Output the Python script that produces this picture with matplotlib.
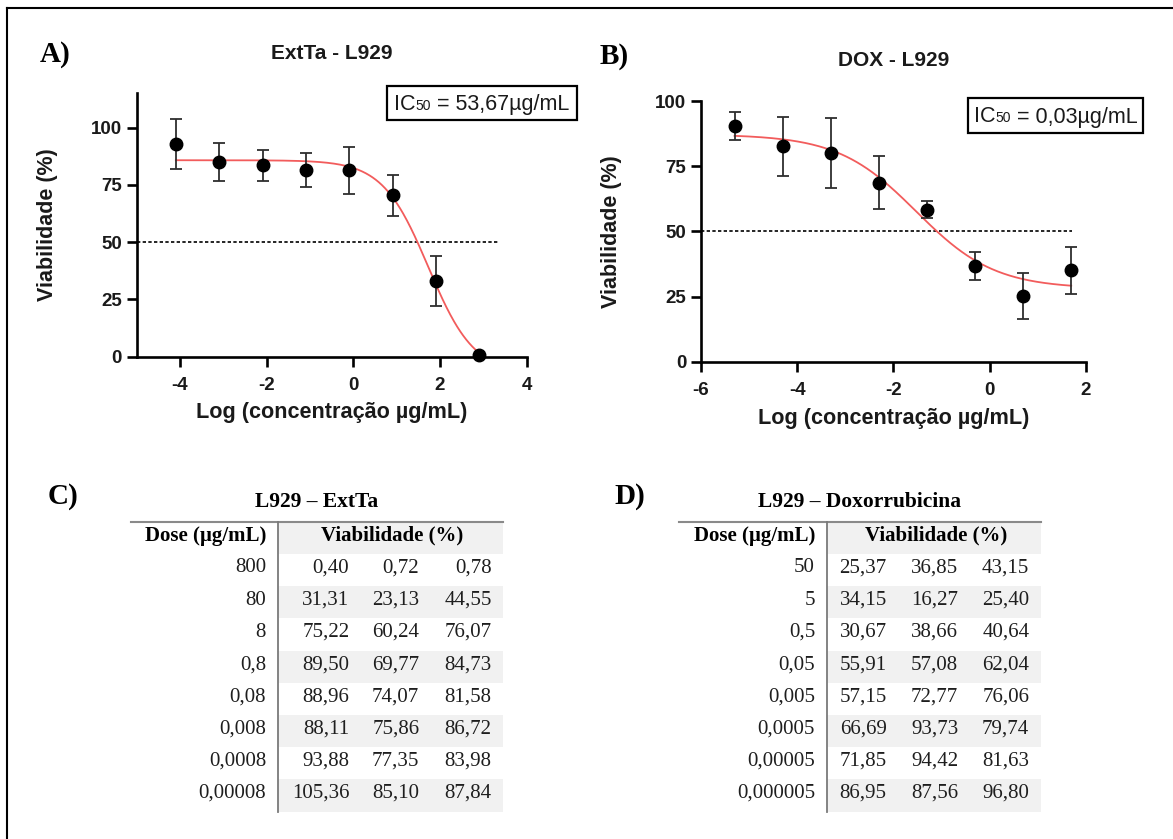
import numpy as np
import matplotlib
matplotlib.use("Agg")
import matplotlib.pyplot as plt
from matplotlib.patches import Rectangle
from matplotlib.lines import Line2D

# ---------------------------------------------------------------------------
# Data: viability (%) of L929 cells, three replicates per dose
# ---------------------------------------------------------------------------
ext_doses = ["800", "80", "8", "0,8", "0,08", "0,008", "0,0008", "0,00008"]
ext_viab = [
    [0.40, 0.72, 0.78],
    [31.31, 23.13, 44.55],
    [75.22, 60.24, 76.07],
    [89.50, 69.77, 84.73],
    [88.96, 74.07, 81.58],
    [88.11, 75.86, 86.72],
    [93.88, 77.35, 83.98],
    [105.36, 85.10, 87.84],
]
ext_ic50 = 53.67

dox_doses = ["50", "5", "0,5", "0,05", "0,005", "0,0005", "0,00005", "0,000005"]
dox_viab = [
    [25.37, 36.85, 43.15],
    [34.15, 16.27, 25.40],
    [30.67, 38.66, 40.64],
    [55.91, 57.08, 62.04],
    [57.15, 72.77, 76.06],
    [66.69, 93.73, 79.74],
    [71.85, 94.42, 81.63],
    [86.95, 87.56, 96.80],
]
dox_ic50 = 0.03

ext_xticks = [-4, -2, 0, 2, 4]
ext_yticks = [0, 25, 50, 75, 100]
dox_xticks = [-6, -4, -2, 0, 2]
dox_yticks = [0, 25, 50, 75, 100]

# ---------------------------------------------------------------------------
W, H = 1173, 839
fig = plt.figure(figsize=(W / 100, H / 100), dpi=100)
fig.patch.set_facecolor("white")

SANS = "Liberation Sans"
SERIF = "Liberation Serif"


def fx(x):
    return x / W


def fy(y):
    return 1 - y / H


def to_float(s):
    return float(s.replace(",", "."))


def fmt(v):
    return f"{v:.2f}".replace(".", ",")


def fit_logistic(x, y, log_ic50):
    """Four-parameter logistic with the midpoint held at log(IC50)."""
    best = None
    for h in np.linspace(0.2, 4.0, 1521):
        s = 1.0 / (1.0 + 10 ** ((x - log_ic50) * h))
        A = np.column_stack([np.ones_like(s), s])
        coef, *_ = np.linalg.lstsq(A, y, rcond=None)
        r = np.sum((A @ coef - y) ** 2)
        if best is None or r < best[0]:
            best = (r, h, coef[0], coef[0] + coef[1])
    _, h, bottom, top = best
    return lambda xx: bottom + (top - bottom) / (1 + 10 ** ((xx - log_ic50) * h))


# frame lines (top and left)
fig.add_artist(Line2D([fx(7), 1], [fy(8), fy(8)], color="black", lw=1.5))
fig.add_artist(Line2D([fx(7), fx(7)], [fy(8), 0], color="black", lw=1.5))


def draw_panel(box, xlim, ylim, xticks, yticks, doses, viab, ic50, dotted_end,
               title, title_y, letter, letter_xy, ic_box, ylabel_x, xlabel_y):
    left, top, right, bottom = box
    ax = fig.add_axes([fx(left), fy(bottom), (right - left) / W, (bottom - top) / H])
    ax.set_xlim(*xlim)
    ax.set_ylim(*ylim)
    for s in ("top", "right"):
        ax.spines[s].set_visible(False)
    for s in ("left", "bottom"):
        ax.spines[s].set_linewidth(1.9)
        ax.spines[s].set_capstyle("projecting")
    ax.set_xticks(xticks)
    ax.set_yticks(yticks)
    ax.set_xticklabels([str(t) for t in xticks])
    ax.set_yticklabels([str(t) for t in yticks])
    ax.tick_params(width=1.9, length=7.0, labelsize=13.5)
    ax.tick_params(axis="x", pad=7.5)
    ax.tick_params(axis="y", pad=3.5)
    for lab in ax.get_xticklabels() + ax.get_yticklabels():
        lab.set_fontfamily(SANS)
        lab.set_fontweight("bold")
        lab.set_color("#1a1a1a")

    x = np.log10([to_float(d) for d in doses])
    v = np.array(viab)
    mean = v.mean(axis=1)
    sd = v.std(axis=1, ddof=1)

    curve = fit_logistic(np.repeat(x, v.shape[1]), v.ravel(), np.log10(ic50))
    xx = np.linspace(x.min(), x.max(), 400)
    ax.plot(xx, curve(xx), color="#f25c5c", lw=1.3, zorder=2, clip_on=False)

    ax.plot([xlim[0], dotted_end], [50, 50], color="black", lw=1.2,
            ls=(0, (2.0, 1.4)), zorder=1)

    ax.errorbar(x, mean, yerr=sd, fmt="o", color="black", ecolor="#2e2e2e",
                elinewidth=1.3, capsize=4.3, capthick=1.3, markersize=9.0,
                zorder=3, clip_on=False)

    cx = (left + right) / 2
    fig.text(fx(cx), fy(title_y), title, ha="center", va="center",
             fontsize=15, fontweight="bold", family=SANS, color="#1a1a1a")
    fig.text(fx(letter_xy[0]), fy(letter_xy[1]), letter, ha="center", va="center",
             fontsize=21, fontweight="bold", family=SERIF)
    fig.text(fx(ylabel_x), fy((top + bottom) / 2), "Viabilidade (%)", rotation=90,
             ha="center", va="center", fontsize=15.5, fontweight="bold", family=SANS,
             color="#1a1a1a")
    fig.text(fx(cx), fy(xlabel_y), "Log (concentração µg/mL)", ha="center",
             va="center", fontsize=15.6, fontweight="bold", family=SANS,
             color="#1a1a1a")

    # IC50 box
    bx0, by0, bx1, by1 = ic_box
    fig.add_artist(Rectangle((fx(bx0), fy(by1)), (bx1 - bx0) / W, (by1 - by0) / H,
                             transform=fig.transFigure, fill=False,
                             edgecolor="black", lw=1.6))
    value = f"{ic50:.2f}".replace(".", ",")
    parts = [("IC", 15.5), ("50", 10), (f" = {value}µg/mL", 15.5)]
    renderer = fig.canvas.get_renderer()
    base_y = (by0 + by1) / 2 + 7
    arts = []
    for txt, size in parts:
        t = fig.text(0, fy(base_y), txt, ha="left", va="baseline",
                     fontsize=size, family=SANS, color="#1a1a1a")
        arts.append(t)
    widths = [a.get_window_extent(renderer).width for a in arts]
    xpos = (bx0 + bx1) / 2 - sum(widths) / 2
    for a, w in zip(arts, widths):
        a.set_x(fx(xpos))
        xpos += w
    return ax


draw_panel(box=(136.7, 93.3, 526.7, 356.7), xlim=(-5, 4), ylim=(0, 115),
           xticks=ext_xticks, yticks=ext_yticks, doses=ext_doses, viab=ext_viab,
           ic50=ext_ic50, dotted_end=3.34, title="ExtTa - L929", title_y=53.5,
           letter="A)", letter_xy=(55, 55), ic_box=(387, 86, 577, 120),
           ylabel_x=48, xlabel_y=412)

draw_panel(box=(700.9, 101.0, 1085.7, 361.7), xlim=(-6, 2), ylim=(0, 100),
           xticks=dox_xticks, yticks=dox_yticks, doses=dox_doses, viab=dox_viab,
           ic50=dox_ic50, dotted_end=1.72, title="DOX - L929", title_y=60,
           letter="B)", letter_xy=(614, 57), ic_box=(968, 98, 1143, 133),
           ylabel_x=611, xlabel_y=418)


# ---------------------------------------------------------------------------
# Tables
# ---------------------------------------------------------------------------
def draw_table(title, title_x, letter, letter_xy, line_x0, line_x1, sep_x,
               dose_right, col_rights, head_center, doses, viab):
    top = 521.7
    band = 32.2
    nrows = len(doses) + 1
    for k in range(0, nrows, 2):
        y0 = top + k * band
        fig.add_artist(Rectangle((fx(sep_x), fy(y0 + band)), (line_x1 - sep_x) / W,
                                 band / H, transform=fig.transFigure,
                                 facecolor="#f1f1f1", edgecolor="none", zorder=0))
    fig.add_artist(Line2D([fx(line_x0), fx(line_x1)], [fy(top), fy(top)],
                          color="#8a8a8a", lw=1.5))
    fig.add_artist(Line2D([fx(sep_x), fx(sep_x)], [fy(top), fy(top + nrows * band)],
                          color="#7a7a7a", lw=1.3))
    fig.text(fx(title_x), fy(501.5), title, ha="center", va="center",
             fontsize=15.5, fontweight="bold", family=SERIF)
    fig.text(fx(letter_xy[0]), fy(letter_xy[1]), letter, ha="center", va="center",
             fontsize=21, fontweight="bold", family=SERIF)

    def row_y(k):
        return top + (k + 0.5) * band - 2

    fig.text(fx(dose_right), fy(row_y(0)), "Dose (µg/mL)", ha="right", va="center",
             fontsize=15, fontweight="bold", family=SERIF)
    fig.text(fx(head_center), fy(row_y(0)), "Viabilidade (%)", ha="center",
             va="center", fontsize=15, fontweight="bold", family=SERIF)
    for i, (d, vals) in enumerate(zip(doses, viab)):
        y = fy(row_y(i + 1))
        fig.text(fx(dose_right), y, d, ha="right", va="center", fontsize=15,
                 family=SERIF, color="#1e1e1e")
        for cr, v in zip(col_rights, vals):
            fig.text(fx(cr), y, fmt(v), ha="right", va="center", fontsize=15,
                     family=SERIF, color="#1e1e1e")


draw_table("L929 – ExtTa", 316.7, "C)", (63, 496), 130.7, 503.3, 277.7, 266,
           (349.3, 419.3, 491.7), 392.3, ext_doses, ext_viab)
draw_table("L929 – Doxorrubicina", 859.3, "D)", (630, 496), 679.3, 1041, 826.7, 815,
           (886.7, 958.3, 1029.3), 936, dox_doses, dox_viab)

fig.savefig("out.png", dpi=100, facecolor="white")
